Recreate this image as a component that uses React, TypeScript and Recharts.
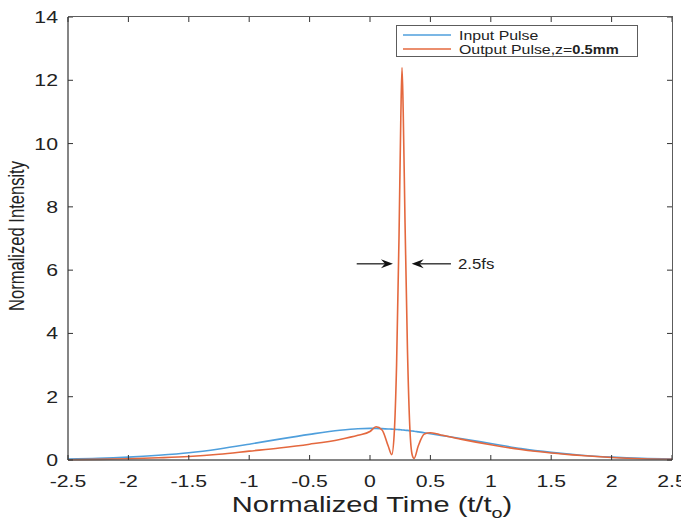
import React from 'react';
import { LineChart, Line, XAxis, YAxis, ReferenceLine, Label } from 'recharts';

// normalized time samples (denser around the compressed spike)
const times = [
  -2.5, -2.25, -2, -1.75, -1.5, -1.25, -1, -0.75, -0.5, -0.25, -0.1, 0, 0.05, 0.1, 0.15,
  0.18, 0.2, 0.22, 0.24, 0.255, 0.265, 0.275, 0.29, 0.31, 0.33, 0.35, 0.365, 0.4, 0.45,
  0.5, 0.55, 0.6, 0.75, 1, 1.25, 1.5, 1.75, 2, 2.25, 2.5,
];
const inputPulse = [
  0.03, 0.05, 0.09, 0.15, 0.23, 0.35, 0.5, 0.66, 0.81, 0.94, 0.99, 1.0, 0.998, 0.99, 0.98,
  0.975, 0.97, 0.965, 0.96, 0.955, 0.95, 0.948, 0.94, 0.935, 0.925, 0.915, 0.91, 0.89, 0.86,
  0.83, 0.8, 0.77, 0.68, 0.52, 0.36, 0.24, 0.15, 0.09, 0.05, 0.03,
];
const outputPulse = [
  0.01, 0.02, 0.04, 0.07, 0.11, 0.18, 0.28, 0.38, 0.5, 0.65, 0.78, 0.9, 1.05, 0.95, 0.45,
  0.17, 0.8, 3.0, 7.0, 10.8, 12.4, 11.0, 7.5, 3.5, 1.0, 0.15, 0.05, 0.45, 0.82,
  0.86, 0.83, 0.78, 0.66, 0.48, 0.33, 0.22, 0.14, 0.08, 0.04, 0.02,
];
const seriesNames = ['Input Pulse', 'Output Pulse,z=0.5mm'];
const seriesColors = ['#4f9fdc', '#e4683e'];

const xTicks = [-2.5, -2, -1.5, -1, -0.5, 0, 0.5, 1, 1.5, 2, 2.5];
const yTicks = [0, 2, 4, 6, 8, 10, 12, 14];
const xMin = -2.5;
const xMax = 2.5;
const yMax = 14;

// FWHM annotation
const fwhmLevel = 6.2;
const leftArrow = [-0.11, 0.19];
const rightArrow = [0.67, 0.345];
const fwhmText = '2.5fs';

const data = times.map((t, i) => ({ t, input: inputPulse[i], output: outputPulse[i] }));

const W = 681;
const H = 522;
const MARGIN = { top: 17, right: 9, left: 0, bottom: 0 };
const Y_AXIS_W = 68;
const X_AXIS_H = 62;
const PLOT_LEFT = MARGIN.left + Y_AXIS_W;
const PLOT_TOP = MARGIN.top;
const PLOT_RIGHT = W - MARGIN.right;
const PLOT_BOTTOM = H - MARGIN.bottom - X_AXIS_H;

const FONT = '"Liberation Sans", Arial, Helvetica, sans-serif';
const AXIS = '#5c5c5c';
const TICK = '#333';
const STRETCH = 1.25; // the source figure is stretched sideways

const BottomTick = ({ x, y, payload }: any) => (
  <g>
    <line x1={x} y1={y} x2={x} y2={y - 5} stroke={TICK} />
    <line x1={x} y1={PLOT_TOP} x2={x} y2={PLOT_TOP + 5} stroke={TICK} />
    <text
      transform={`translate(${x},${y + 27}) scale(${STRETCH},1)`}
      textAnchor="middle"
      fontSize={17}
      fill="#222"
      fontFamily={FONT}
    >
      {payload.value}
    </text>
  </g>
);
const LeftTick = ({ x, y, payload }: any) => (
  <g>
    <line x1={x} y1={y} x2={x + 5} y2={y} stroke={TICK} />
    <line x1={PLOT_RIGHT} y1={y} x2={PLOT_RIGHT - 5} y2={y} stroke={TICK} />
    <text
      transform={`translate(${x - 10},${y + 6}) scale(${STRETCH},1)`}
      textAnchor="end"
      fontSize={17}
      fill="#222"
      fontFamily={FONT}
    >
      {payload.value}
    </text>
  </g>
);

const arrow = (text?: string) => (p: any) => {
  const { x1, y1, x2, y2 } = p;
  const dir = Math.sign(x2 - x1);
  const L = 12;
  const HW = 4.5;
  const notch = 4;
  const head = `M${x2},${y2} L${x2 - dir * L},${y2 - HW} L${x2 - dir * (L - notch)},${y2} L${x2 - dir * L},${y2 + HW} Z`;
  return (
    <g>
      <line x1={x1} y1={y1} x2={x2 - dir * (L - notch)} y2={y2} stroke="#222" strokeWidth={1.3} />
      <path d={head} fill="#111" />
      {text && (
        <text
          transform={`translate(${x1 + 7},${y1 + 5}) scale(1.12,1)`}
          fontSize={15}
          fill="#222"
          fontFamily={FONT}
        >
          {text}
        </text>
      )}
    </g>
  );
};

export default function App() {
  return (
    <div style={{ position: 'fixed', left: 0, top: 0, width: W, height: H, background: '#fff' }}>
      <LineChart width={W} height={H} data={data} margin={MARGIN}>
        <XAxis
          dataKey="t"
          type="number"
          domain={[xMin, xMax]}
          ticks={xTicks}
          interval={0}
          height={X_AXIS_H}
          tickSize={0}
          tickMargin={0}
          tickLine={false}
          axisLine={{ stroke: AXIS, strokeWidth: 1.5 }}
          tick={<BottomTick />}
        >
          <Label
            content={() => (
              <text
                transform="translate(372,512) scale(1.32,1)"
                textAnchor="middle"
                fontSize={22}
                fill="#222"
                fontFamily={FONT}
              >
                Normalized Time (t/t
                <tspan dy={6} fontSize={15}>o</tspan>
                <tspan dy={-6}>)</tspan>
              </text>
            )}
          />
        </XAxis>
        <YAxis
          type="number"
          domain={[0, yMax]}
          ticks={yTicks}
          interval={0}
          width={Y_AXIS_W}
          tickSize={0}
          tickMargin={0}
          tickLine={false}
          axisLine={{ stroke: AXIS, strokeWidth: 1.5 }}
          tick={<LeftTick />}
        >
          <Label
            content={() => (
              <text
                x={24}
                y={236}
                transform="rotate(-90 24 236)"
                textAnchor="middle"
                fontSize={22}
                textLength={150}
                lengthAdjust="spacingAndGlyphs"
                fill="#222"
                fontFamily={FONT}
              >
                Normalized Intensity
              </text>
            )}
          />
        </YAxis>
        <Line
          type="monotone"
          dataKey="input"
          name={seriesNames[0]}
          stroke={seriesColors[0]}
          strokeWidth={1.6}
          dot={false}
          isAnimationActive={false}
        />
        <Line
          type="monotone"
          dataKey="output"
          name={seriesNames[1]}
          stroke={seriesColors[1]}
          strokeWidth={1.6}
          dot={false}
          isAnimationActive={false}
        />
        <ReferenceLine
          ifOverflow="visible"
          segment={[{ x: leftArrow[0], y: fwhmLevel }, { x: leftArrow[1], y: fwhmLevel }]}
          shape={arrow()}
        />
        <ReferenceLine
          ifOverflow="visible"
          segment={[{ x: rightArrow[0], y: fwhmLevel }, { x: rightArrow[1], y: fwhmLevel }]}
          shape={arrow(fwhmText)}
        />
      </LineChart>
      {/* top and right edges of the axes box */}
      <div
        style={{
          position: 'absolute',
          left: PLOT_LEFT,
          top: PLOT_TOP - 1,
          width: PLOT_RIGHT - PLOT_LEFT + 1,
          height: PLOT_BOTTOM - PLOT_TOP + 1,
          boxSizing: 'border-box',
          borderTop: `1.5px solid ${AXIS}`,
          borderRight: `1.5px solid ${AXIS}`,
          pointerEvents: 'none',
        }}
      />
      <div
        style={{
          position: 'absolute',
          left: 396,
          top: 25,
          width: 240,
          height: 30,
          border: `1px solid ${AXIS}`,
          background: '#fff',
          fontFamily: FONT,
          fontSize: 13,
          color: '#222',
        }}
      >
        {seriesNames.map((name, i) => (
          <div
            key={name}
            style={{
              position: 'absolute',
              left: 6,
              top: 2 + i * 14,
              height: 14,
              display: 'flex',
              alignItems: 'center',
              whiteSpace: 'nowrap',
            }}
          >
            <svg width={50} height={4} style={{ marginRight: 6 }}>
              <line x1={0} y1={2} x2={48} y2={2} stroke={seriesColors[i]} strokeWidth={1.5} />
            </svg>
            <span style={{ display: 'inline-block', transform: 'scaleX(1.22)', transformOrigin: 'left center' }}>
              {i === 0 ? name : (
                <>
                  Output Pulse,z=<b style={{ fontSize: 12 }}>0.5mm</b>
                </>
              )}
            </span>
          </div>
        ))}
      </div>
    </div>
  );
}
